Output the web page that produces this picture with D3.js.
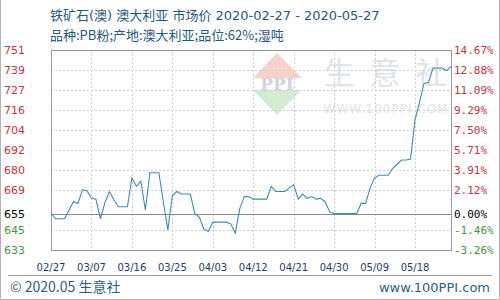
<!DOCTYPE html>
<html>
<head>
<meta charset="utf-8">
<script src="https://cdn.jsdelivr.net/npm/d3@7"></script>
<style>
  body { margin: 0; background: #fff; }
  svg { display: block; }
</style>
</head>
<body>
<svg id="chart" width="500" height="300"></svg>
<script>
// data
var base = 655;
var dateLabels = ['02/27', '03/07', '03/16', '03/25', '04/03', '04/12', '04/21', '04/30', '05/09', '05/18'];
var prices = [
  655.5, 652, 652, 652, 657, 662, 661, 669, 668.5, 664,
  663.5, 652, 661.5, 668, 663, 659, 659, 659, 676, 671,
  674, 657, 679, 679, 679, 662, 645.5, 665.5, 668, 666.5,
  666.5, 666.5, 655, 653, 646, 644.5, 650, 650, 650, 650,
  649, 643.5, 658, 665, 665, 663.5, 663.5, 663.5, 663.5, 671,
  668, 668, 668, 670, 672, 663.5, 666.5, 664, 665, 663.5,
  664, 662, 656, 655, 655, 655, 655, 655, 655, 661,
  661, 670, 676, 677.5, 677.5, 677.5, 681.5, 684, 686.5, 686.5,
  687, 710, 720.5, 731.5, 732, 740.5, 740.5, 740.5, 739, 741.5
];
var pctTicks = [-3.26, -1.46, 0, 2.12, 3.91, 5.71, 7.50, 9.29, 11.09, 12.88, 14.67];
var priceLabels = ['633', '645', '655', '669', '680', '692', '704', '716', '727', '739', '751'];

var svg = d3.select('#chart');

// window.top is reserved, so plot edges get their own names
var plotLeft = 51, plotRight = 451, plotTop = 50, plotBottom = 250;

var x = d3.scaleLinear()
  .domain([0, prices.length - 1])
  .range([plotLeft, plotRight]);

var y = d3.scaleLinear()
  .domain([base * (1 + pctTicks[0] / 100), base * (1 + pctTicks[pctTicks.length - 1] / 100)])
  .range([plotBottom, plotTop]);

function tickColor(p) {
  if (p > 0) return '#c8323a';
  if (p < 0) return '#3c9a3c';
  return '#000';
}

// outer frame (no top edge)
svg.append('path')
  .attr('d', 'M0.5,0 V299.5 H499.5 V0')
  .attr('fill', 'none')
  .attr('stroke', '#b4b4b4');

// title
svg.append('text')
  .attr('x', 50).attr('y', 20)
  .attr('font-family', 'DejaVu Sans, Noto Sans CJK SC, sans-serif')
  .attr('font-size', 13)
  .attr('fill', '#1d5a80')
  .text('铁矿石(澳) 澳大利亚 市场价 2020-02-27 - 2020-05-27');

svg.append('text')
  .attr('x', 50).attr('y', 40)
  .attr('font-family', 'Noto Sans CJK SC, sans-serif')
  .attr('font-size', 13)
  .attr('fill', '#1d5a80')
  .text('品种:PB粉;产地:澳大利亚;品位:62%;湿吨');

// watermark
var wm = svg.append('g');
wm.append('path')
  .attr('d', 'M277,53 L302,78 L253,78 Z')
  .attr('fill', '#f6d2cb');
wm.append('path')
  .attr('d', 'M253,90 L302,90 L277,115 Z')
  .attr('fill', '#d3ebd1');
wm.append('text')
  .attr('x', 277).attr('y', 90)
  .attr('text-anchor', 'middle')
  .attr('font-family', 'DejaVu Serif, serif')
  .attr('font-weight', 'bold')
  .attr('font-size', 17)
  .attr('fill', '#cdd4e6')
  .text('PPI');
wm.selectAll('.wmchar')
  .data(['生', '意', '社'])
  .enter().append('text')
  .attr('x', (d, i) => 339 + i * 46)
  .attr('y', 84)
  .attr('text-anchor', 'middle')
  .attr('font-family', 'Noto Sans CJK SC, sans-serif')
  .attr('font-size', 31)
  .attr('fill', '#e1e3ea')
  .text(d => d);
wm.append('text')
  .attr('x', 386).attr('y', 113)
  .attr('text-anchor', 'middle')
  .attr('font-family', 'DejaVu Sans, sans-serif')
  .attr('font-size', 12)
  .attr('letter-spacing', 1)
  .attr('fill', '#e1e3ea')
  .text('WWW.100PPI.COM');

// grid
var grid = svg.append('g');
grid.selectAll('.hgrid')
  .data(pctTicks.filter(p => p !== 0))
  .enter().append('line')
  .attr('x1', plotLeft).attr('x2', plotRight)
  .attr('y1', p => Math.round(y(base * (1 + p / 100))) + 0.5)
  .attr('y2', p => Math.round(y(base * (1 + p / 100))) + 0.5)
  .attr('stroke', '#cfcfcf')
  .attr('stroke-dasharray', '2,2');

grid.selectAll('.vgrid')
  .data(dateLabels.slice(1))
  .enter().append('line')
  .attr('x1', (d, i) => Math.round(x((i + 1) * 9)) + 0.5)
  .attr('x2', (d, i) => Math.round(x((i + 1) * 9)) + 0.5)
  .attr('y1', plotTop).attr('y2', plotBottom)
  .attr('stroke', '#cfcfcf')
  .attr('stroke-dasharray', '2,2');

// baseline
svg.append('line')
  .attr('x1', plotLeft).attr('x2', plotRight)
  .attr('y1', Math.round(y(base)) + 0.5)
  .attr('y2', Math.round(y(base)) + 0.5)
  .attr('stroke', '#8a8a8a');

// plot frame
svg.append('rect')
  .attr('x', plotLeft + 0.5).attr('y', plotTop + 0.5)
  .attr('width', plotRight - plotLeft).attr('height', plotBottom - plotTop)
  .attr('fill', 'none')
  .attr('stroke', '#9a9a9a');

// price line
var line = d3.line()
  .x((d, i) => x(i))
  .y(d => y(d));

svg.append('path')
  .datum(prices)
  .attr('d', line)
  .attr('fill', 'none')
  .attr('stroke', '#3d8cb8')
  .attr('stroke-width', 1.1);

// left labels
svg.selectAll('.ylab')
  .data(pctTicks)
  .enter().append('text')
  .attr('x', 4)
  .attr('y', p => y(base * (1 + p / 100)))
  .attr('dy', '0.36em')
  .attr('font-family', 'DejaVu Sans, sans-serif')
  .attr('font-size', 11)
  .attr('fill', p => tickColor(p))
  .text((p, i) => priceLabels[i]);

// right labels
svg.selectAll('.plab')
  .data(pctTicks)
  .enter().append('text')
  .attr('x', 454)
  .attr('y', p => y(base * (1 + p / 100)))
  .attr('dy', '0.36em')
  .attr('font-family', 'DejaVu Sans Mono, monospace')
  .attr('font-size', 11)
  .attr('fill', p => tickColor(p))
  .text(p => p.toFixed(2) + '%');

// x labels
svg.selectAll('.xlab')
  .data(dateLabels)
  .enter().append('text')
  .attr('x', (d, i) => x(i * 9))
  .attr('y', 271)
  .attr('text-anchor', 'middle')
  .attr('font-family', 'DejaVu Sans, sans-serif')
  .attr('font-size', 10)
  .attr('fill', '#1f3d6b')
  .text(d => d);

// footer
svg.append('line')
  .attr('x1', 8).attr('x2', 492)
  .attr('y1', 275.5).attr('y2', 275.5)
  .attr('stroke', '#9a9a9a');

svg.append('text')
  .attr('x', 10).attr('y', 292)
  .attr('font-family', 'Noto Sans CJK SC, sans-serif')
  .attr('font-size', 14)
  .attr('fill', '#2a5f8a')
  .text('© 2020.05 生意社');

svg.append('text')
  .attr('x', 490).attr('y', 292)
  .attr('text-anchor', 'end')
  .attr('font-family', 'DejaVu Sans, sans-serif')
  .attr('font-size', 13)
  .attr('fill', '#2a5f8a')
  .text('www.100PPI.com');
</script>
</body>
</html>
